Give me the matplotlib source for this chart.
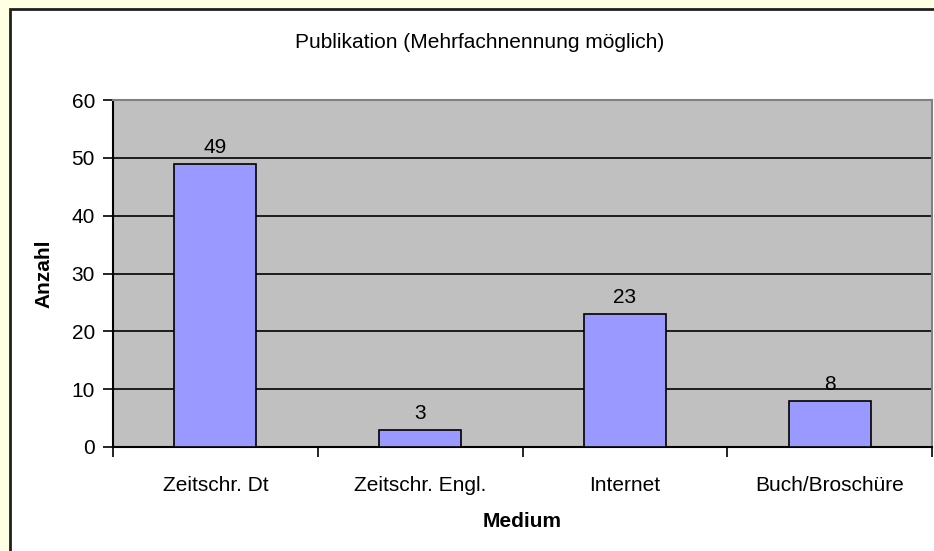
import matplotlib
matplotlib.use("Agg")
import matplotlib.pyplot as plt
from matplotlib.patches import Rectangle

categories = ["Zeitschr. Dt", "Zeitschr. Engl.", "Internet", "Buch/Broschüre"]
counts = [49, 3, 23, 8]
yticks = [0, 10, 20, 30, 40, 50, 60]

plt.rcParams['font.family'] = ['Liberation Sans', 'DejaVu Sans']
FS = 15

W, H = 934, 551
fig = plt.figure(figsize=(W / 100, H / 100), dpi=100)
fig.patch.set_facecolor('#FFFFE3')

# white chart area with black frame (cut off at right/bottom)
frame = Rectangle((10 / W, -0.05), 1.1, (H - 9) / H + 0.05, transform=fig.transFigure,
                  facecolor='white', edgecolor='#202020', linewidth=2, zorder=-1)
fig.add_artist(frame)

ax = fig.add_axes([113 / W, (H - 447) / H, (932 - 113) / W, (447 - 100) / H])
ax.set_zorder(1)
ax.set_facecolor('#C0C0C0')
x = list(range(len(categories)))
ax.bar(x, counts, width=0.4, color='#9999FF', edgecolor='black', linewidth=1.2, zorder=3)
for xi, v in zip(x, counts):
    ax.text(xi, v + 1.2, str(v), ha='center', va='bottom', fontsize=FS, zorder=4)

ax.set_xlim(-0.5, len(categories) - 0.5)
ax.set_ylim(0, 60)
ax.set_yticks(yticks)
ax.yaxis.grid(True, color='black', linewidth=1.2, zorder=1)
ax.set_axisbelow(True)
ax.set_xticks([i - 0.5 for i in range(len(categories) + 1)], minor=False)
ax.set_xticklabels([])
ax.set_xticks(x, minor=True)
ax.set_xticklabels(categories, minor=True, fontsize=FS)
ax.tick_params(axis='x', which='minor', length=0, pad=21)
ax.tick_params(axis='x', which='major', direction='out', length=7, width=1.2)
ax.tick_params(axis='y', direction='out', length=7, width=1.2, labelsize=FS, pad=6)

for s in ['top', 'right']:
    ax.spines[s].set_color('#808080')
    ax.spines[s].set_linewidth(1.5)
for s in ['left', 'bottom']:
    ax.spines[s].set_color('black')
    ax.spines[s].set_linewidth(1.5)

ax.set_ylabel('Anzahl', fontsize=FS, fontweight='bold', labelpad=13)
ax.set_xlabel('Medium', fontsize=FS, fontweight='bold', labelpad=12)
fig.text(480 / W, 1 - 43 / H, 'Publikation (Mehrfachnennung möglich)', ha='center', va='center', fontsize=FS)

fig.savefig('out.png', dpi=100, facecolor=fig.get_facecolor())
